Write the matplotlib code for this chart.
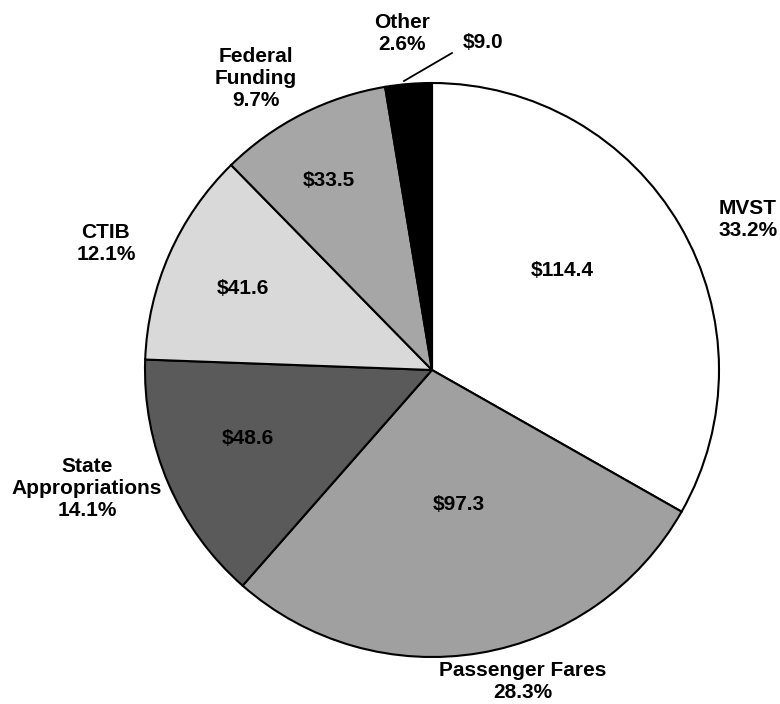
import matplotlib.pyplot as plt

categories = ["MVST", "Passenger Fares", "State\nAppropriations", "CTIB", "Federal\nFunding", "Other"]
values = [114.4, 97.3, 48.6, 41.6, 33.5, 9.0]
colors = ["#ffffff", "#a0a0a0", "#5a5a5a", "#d9d9d9", "#a6a6a6", "#000000"]

# label layout in pixel coords (x from left, y from top)
name_pos = [(748, 219), (523, 681), (87, 488), (106, 244), (256, 78), (402, 34)]
value_pos = [(562, 270), (459, 504), (248, 439), (243, 288), (329, 180), (483, 43)]

W, H = 780, 704
plt.rcParams['font.family'] = ['Liberation Sans', 'DejaVu Sans']

fig = plt.figure(figsize=(W / 100, H / 100), dpi=100)
ax = fig.add_axes([0, 0, 1, 1])

cx, cy, r = 432, H - 370, 287
ax.pie(values, colors=colors, startangle=90, counterclock=False,
       center=(cx, cy), radius=r,
       wedgeprops=dict(edgecolor="black", linewidth=1.5))

total = sum(values)
for name, v, (nx_, ny_), (vx, vy) in zip(categories, values, name_pos, value_pos):
    pct = v / total * 100
    ax.text(nx_, H - ny_, f"{name}\n{pct:.1f}%", ha="center", va="center",
            fontsize=15, fontweight="bold", linespacing=1.2)
    ax.text(vx, H - vy, f"${v:.1f}", ha="center", va="center",
            fontsize=15, fontweight="bold")

# leader line for the small slice
ax.plot([404, 452], [H - 81, H - 53], color="black", linewidth=1.3)

ax.set_xlim(0, W)
ax.set_ylim(0, H)
ax.set_aspect("equal")
ax.axis("off")

fig.savefig("out.png", dpi=100)
